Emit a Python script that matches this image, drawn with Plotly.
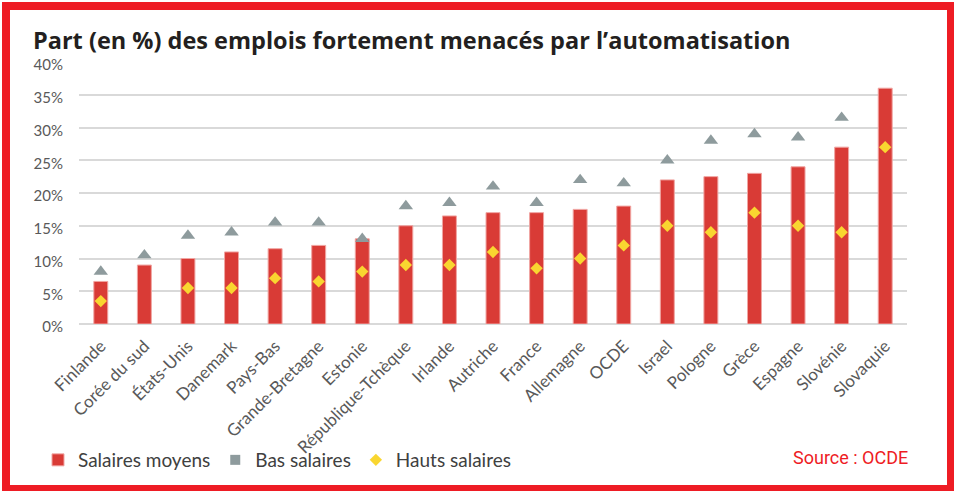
import plotly.graph_objects as go

pays = ["Finlande", "Corée du sud", "États-Unis", "Danemark", "Pays-Bas", "Grande-Bretagne",
        "Estonie", "République-Tchèque", "Irlande", "Autriche", "France", "Allemagne", "OCDE",
        "Israel", "Pologne", "Grèce", "Espagne", "Slovénie", "Slovaquie"]
salaires_moyens = [6.5, 9, 10, 11, 11.5, 12, 13, 15, 16.5, 17, 17, 17.5, 18, 22, 22.5, 23, 24, 27, 36]
bas_salaires = [8, 10.5, 13.5, 14, 15.5, 15.5, 13, 18, 18.5, 21, 18.5, 22, 21.5, 25, 28, 29, 28.5, 31.5, 41.3]
hauts_salaires = [3.5, None, 5.5, 5.5, 7, 6.5, 8, 9, 9, 11, 8.5, 10, 12, 15, 14, 17, 15, 14, 27]
y_ticks = [0, 5, 10, 15, 20, 25, 30, 35, 40]
y_tick_labels = [f"{v}%" for v in y_ticks]

RED = "#D93B36"
GREY = "#8E9B9D"
YELLOW = "#F9D630"
FRAME = "#EE1C24"

W, H = 954, 491
ML, MR, MT, MB = 79, W - 907, 62, H - 324
PW, PH = W - ML - MR, H - MT - MB


def px_x(p):
    return (p - ML) / PW


def px_y(p):
    return (H - MB - p) / PH


fig = go.Figure()
fig.add_trace(go.Bar(
    x=pays, y=salaires_moyens, name="Salaires moyens",
    marker=dict(color=RED, line=dict(color="#F0A5A2", width=1)),
    width=0.32, hoverinfo="skip",
))
fig.add_trace(go.Scatter(
    x=pays, y=bas_salaires, name="Bas salaires", mode="markers",
    marker=dict(symbol="triangle-up", size=12.5, color=GREY),
    showlegend=False, cliponaxis=False,
))
fig.add_trace(go.Scatter(
    x=[None], y=[None], name="Bas salaires", mode="markers",
    marker=dict(symbol="square", size=10, color=GREY),
))
fig.add_trace(go.Scatter(
    x=pays, y=hauts_salaires, name="Hauts salaires", mode="markers",
    marker=dict(symbol="diamond", size=9.5, color=YELLOW),
    cliponaxis=False,
))

fig.update_layout(
    width=W, height=H,
    margin=dict(l=ML, r=MR, t=MT, b=MB, pad=0),
    paper_bgcolor="white", plot_bgcolor="white",
    font=dict(family="Lato, Open Sans, sans-serif", color="#595959"),
    showlegend=True,
    legend=dict(orientation="h", x=px_x(38), xanchor="left", y=px_y(460), yanchor="middle",
                font=dict(size=19, color="#404040", family="Lato, sans-serif"),
                itemwidth=30, tracegroupgap=0, bgcolor="rgba(0,0,0,0)"),
    bargap=0.68,
    xaxis=dict(type="category", tickangle=-45, tickfont=dict(size=17, color="#595959"),
               showgrid=False, showline=False, ticks="", ticklabelstandoff=8,
               range=[-0.5, len(pays) - 0.5]),
    yaxis=dict(range=[0, 40], tickvals=y_ticks, ticktext=y_tick_labels,
               tickfont=dict(size=15, color="#595959"),
               showgrid=True, gridcolor="#D9D9D9", gridwidth=1.5,
               zeroline=True, zerolinecolor="#D9D9D9", zerolinewidth=1.5,
               showline=False, ticks="", ticklabelstandoff=15, ticklabelshift=3),
    annotations=[
        dict(text="<b>Part (en %) des emplois fortement menacés par l’automatisation</b>",
             xref="paper", yref="paper", x=px_x(31), y=px_y(39.5), xanchor="left", yanchor="middle",
             showarrow=False, font=dict(family="Open Sans, sans-serif", size=23.5, color="#231F20")),
        dict(text="Source : OCDE", xref="paper", yref="paper", x=px_x(910), y=px_y(457),
             xanchor="right", yanchor="middle", showarrow=False,
             font=dict(family="Roboto, sans-serif", size=18, color=FRAME)),
    ],
    shapes=[
        dict(type="rect", xref="paper", yref="paper",
             x0=px_x(6), x1=px_x(951), y0=px_y(6), y1=px_y(489),
             line=dict(color=FRAME, width=8), fillcolor="rgba(0,0,0,0)", layer="above"),
    ],
)

fig.write_html("out.html", config={"displayModeBar": False},
               post_script="document.body.style.margin='0';document.body.style.overflow='hidden';")
